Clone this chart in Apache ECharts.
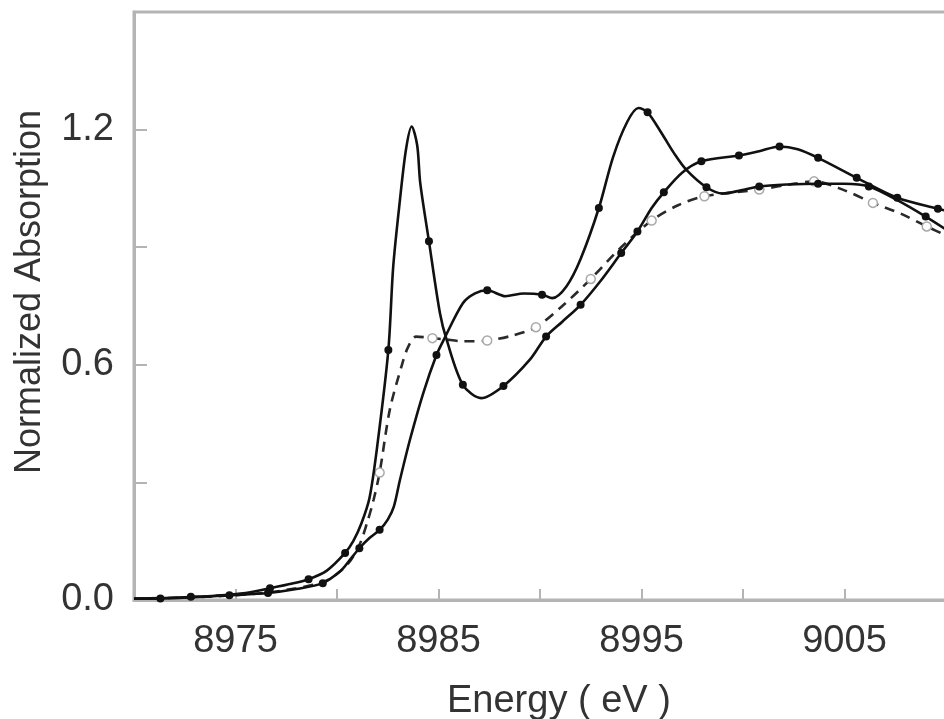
<!DOCTYPE html>
<html>
<head>
<meta charset="utf-8">
<script src="https://cdn.jsdelivr.net/npm/echarts@6/dist/echarts.min.js"></script>
<style>
html,body{margin:0;padding:0;background:#fff;}
#chart{width:944px;height:719px;}
</style>
</head>
<body>
<div id="chart"></div>
<script>
// ---- data ----
// Curve A: sharp pre-edge peak near 8983.7 eV (solid, filled dots)
const energyA = [8970.0, 8971.3, 8972.8, 8974.0, 8975.5, 8976.7, 8977.8, 8978.6, 8979.5, 8980.4, 8980.8, 8981.2, 8981.6, 8982.0, 8982.53, 8982.77, 8983.1, 8983.4, 8983.68, 8983.95, 8984.1, 8984.53, 8985.07, 8985.4, 8986.2, 8987.1, 8988.2, 8989.5, 8990.3, 8991.1, 8992.0, 8993.0, 8994.0, 8994.8, 8995.5, 8996.1, 8997.0, 8997.95, 8999.8, 9000.8, 9001.8, 9002.7, 9003.7, 9005.6, 9007.6, 9009.6, 9010.0];
const valueA  = [0.004, 0.005, 0.008, 0.011, 0.018, 0.030, 0.042, 0.053, 0.075, 0.120, 0.150, 0.195, 0.260, 0.400, 0.638, 0.851, 1.020, 1.150, 1.208, 1.160, 1.064, 0.915, 0.732, 0.664, 0.549, 0.515, 0.546, 0.613, 0.672, 0.710, 0.753, 0.815, 0.885, 0.940, 1.000, 1.040, 1.090, 1.119, 1.134, 1.145, 1.157, 1.150, 1.128, 1.077, 1.026, 0.998, 0.993];
const markersA = [8972.8, 8976.7, 8978.6, 8980.4, 8982.53, 8984.53, 8986.2, 8988.2, 8990.3, 8992.0, 8994.0, 8994.8, 8996.1, 8997.95, 8999.8, 9001.8, 9003.7, 9005.6, 9007.6, 9009.6];

// Curve B: shoulder, bump at 8987 eV and main peak near 8995 eV (solid, filled dots)
const energyB = [8970.0, 8971.3, 8973.0, 8974.7, 8976.6, 8978.0, 8979.3, 8980.2, 8980.6, 8981.1, 8981.6, 8982.1, 8982.5, 8982.8, 8983.1, 8983.6, 8984.25, 8984.9, 8985.27, 8986.2, 8986.8, 8987.4, 8988.3, 8989.2, 8990.1, 8990.6, 8991.3, 8992.0, 8992.9, 8993.6, 8994.3, 8994.85, 8995.3, 8996.0, 8996.6, 8997.2, 8998.2, 8999.0, 8999.9, 9000.8, 9002.2, 9003.7, 9005.0, 9006.2, 9007.6, 9009.0, 9010.0];
const valueB  = [0.003, 0.004, 0.007, 0.012, 0.018, 0.028, 0.043, 0.075, 0.100, 0.132, 0.158, 0.179, 0.205, 0.238, 0.306, 0.410, 0.528, 0.625, 0.665, 0.757, 0.782, 0.790, 0.775, 0.782, 0.779, 0.770, 0.800, 0.870, 1.000, 1.130, 1.220, 1.255, 1.244, 1.190, 1.140, 1.098, 1.053, 1.037, 1.045, 1.055, 1.060, 1.062, 1.062, 1.055, 1.020, 0.978, 0.945];
const markersB = [8971.3, 8974.7, 8976.6, 8979.3, 8981.1, 8982.1, 8984.9, 8987.4, 8990.1, 8992.9, 8995.3, 8998.2, 9000.8, 9003.7, 9006.2, 9009.0];

// Curve C: dashed, open circles
const energyC = [8970.0, 8973.0, 8976.0, 8978.0, 8979.5, 8980.5, 8981.1, 8981.5, 8981.8, 8982.1, 8982.6, 8983.2, 8983.5, 8983.9, 8984.7, 8985.3, 8986.2, 8987.4, 8988.6, 8989.8, 8991.1, 8992.5, 8994.0, 8995.5, 8996.8, 8998.1, 9000.8, 9002.3, 9003.5, 9005.0, 9006.4, 9007.8, 9009.05, 9010.0];
const valueC  = [0.003, 0.007, 0.016, 0.030, 0.050, 0.090, 0.140, 0.200, 0.255, 0.325, 0.485, 0.600, 0.645, 0.672, 0.668, 0.665, 0.660, 0.662, 0.674, 0.696, 0.750, 0.819, 0.900, 0.968, 1.007, 1.030, 1.047, 1.060, 1.068, 1.045, 1.013, 0.985, 0.953, 0.930];
const markersC = [8982.1, 8984.7, 8987.4, 8989.8, 8992.5, 8995.5, 8998.1, 9000.8, 9003.5, 9006.4, 9009.05];

// axes
const xMin = 8970, xMax = 9010, xStep = 5;
const xLabels = [8975, 8985, 8995, 9005];
const yMin = 0, yMax = 1.5, yStep = 0.3;
const yLabels = [0.0, 0.6, 1.2];
const xTitle = 'Energy ( eV )';
const yTitle = 'Normalized Absorption';

// ---- chart ----
const FONT = "'Liberation Sans', Arial, Helvetica, sans-serif";
const TXT = '#333';
const AXC = '#b4b4b4';

function pairs(xs, ys){ return xs.map((x,i)=>[x, ys[i]]); }
function symFn(marks){
  return function(v){ return marks.some(m => Math.abs(m - v[0]) < 1e-6) ? 'circle' : 'none'; };
}

const chart = echarts.init(document.getElementById('chart'), null, {renderer:'canvas'});
chart.setOption({
  animation: false,
  backgroundColor: '#fff',
  grid: {left: 134, right: -2, top: 12, bottom: 119, show: true, borderColor: AXC, borderWidth: 3, containLabel: false, outerBoundsMode: 'none'},
  xAxis: {
    type: 'value', min: xMin, max: xMax, interval: xStep,
    axisLine: {show: true, lineStyle: {color: AXC, width: 3}},
    axisTick: {show: true, inside: true, length: 11, lineStyle: {color: AXC, width: 2}},
    splitLine: {show: false},
    axisLabel: {
      margin: 23, color: TXT, fontSize: 38, fontFamily: FONT,
      formatter: v => xLabels.some(l => Math.abs(l - v) < 1e-6) ? String(v) : ''
    }
  },
  yAxis: {
    type: 'value', min: yMin, max: yMax, interval: yStep,
    axisLine: {show: true, lineStyle: {color: AXC, width: 3}},
    axisTick: {show: true, inside: true, length: 13, lineStyle: {color: AXC, width: 2}},
    splitLine: {show: false},
    axisLabel: {
      margin: 20, color: TXT, fontSize: 38, fontFamily: FONT,
      formatter: v => yLabels.some(l => Math.abs(l - v) < 1e-6) ? v.toFixed(1) : ''
    }
  },
  graphic: [
    {type: 'text', left: 447, top: 683, style: {text: xTitle, fill: TXT, font: "38px " + FONT}},
    {type: 'text', x: 30, y: 292, rotation: Math.PI/2, style: {text: yTitle, fill: TXT, font: "36px " + FONT, align: 'center', verticalAlign: 'middle'}}
  ],
  series: [
    {
      type: 'line', name: 'C', data: pairs(energyC, valueC),
      smooth: 0.3,
      symbol: symFn(markersC), symbolSize: 9, showSymbol: true,
      lineStyle: {color: '#2a2a2a', width: 2.6, type: [10, 7]},
      itemStyle: {color: '#fff', borderColor: '#aaa', borderWidth: 1.5},
      z: 2
    },
    {
      type: 'line', name: 'B', data: pairs(energyB, valueB),
      smooth: 0.3,
      symbol: symFn(markersB), symbolSize: 8, showSymbol: true,
      lineStyle: {color: '#111', width: 2.6},
      itemStyle: {color: '#111', borderWidth: 0},
      z: 3
    },
    {
      type: 'line', name: 'A', data: pairs(energyA, valueA),
      smooth: 0.3,
      symbol: symFn(markersA), symbolSize: 8, showSymbol: true,
      lineStyle: {color: '#111', width: 2.6},
      itemStyle: {color: '#111', borderWidth: 0},
      z: 4
    }
  ]
});
</script>
</body>
</html>
